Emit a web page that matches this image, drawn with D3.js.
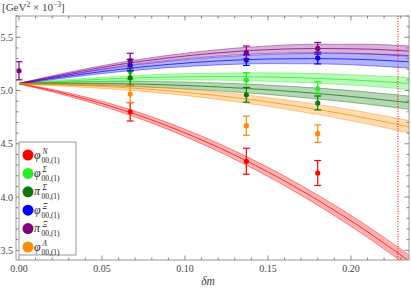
<!DOCTYPE html>
<html><head><meta charset="utf-8">
<script src="https://cdn.jsdelivr.net/npm/d3@7"></script>
<style>body{margin:0;background:#fff}svg{display:block}text{font-family:"Liberation Serif",serif}</style>
</head><body><svg id="c" width="411" height="289"></svg>
<script>
// ---- data ----
const seriesNames = ["phiN","phiSigma","piSigma","phiXi","piXi","phiLambda"];
const seriesColors = ["#ff0000","#22ee22","#0b7a0b","#0000ff","#800080","#ff8c00"];
const legendSym = ["φ","φ","π","φ","π","φ"];
const legendSup = ["N","Σ","Σ","Ξ","Ξ","Λ"];
const legendSub = "00,(1)";

// fit band samples (δm, centre value, half width)
const fitX = [0, 0.03, 0.06, 0.09, 0.12, 0.15, 0.18, 0.21, 0.235];
const fitRed    = [5.065, 4.962, 4.830, 4.665, 4.467, 4.236, 3.971, 3.674, 3.400];
const fitLGreen = [5.065, 5.091, 5.113, 5.127, 5.131, 5.127, 5.114, 5.092, 5.067];
const fitDGreen = [5.065, 5.066, 5.064, 5.053, 5.034, 5.007, 4.972, 4.929, 4.886];
const fitBlue   = [5.065, 5.136, 5.198, 5.245, 5.278, 5.296, 5.300, 5.290, 5.270];
const fitPurple = [5.065, 5.160, 5.243, 5.307, 5.354, 5.384, 5.395, 5.389, 5.370];
const fitOrange = [5.065, 5.052, 5.031, 4.998, 4.952, 4.893, 4.822, 4.739, 4.660];
const hwRed    = [0.004, 0.015, 0.025, 0.032, 0.038, 0.043, 0.048, 0.053, 0.057];
const hwLGreen = [0.004, 0.013, 0.020, 0.027, 0.033, 0.039, 0.045, 0.050, 0.055];
const hwDGreen = [0.004, 0.014, 0.022, 0.030, 0.037, 0.044, 0.051, 0.057, 0.062];
const hwBlue   = [0.004, 0.014, 0.022, 0.030, 0.037, 0.043, 0.049, 0.055, 0.060];
const hwPurple = [0.004, 0.012, 0.018, 0.024, 0.030, 0.035, 0.040, 0.045, 0.048];
const hwOrange = [0.004, 0.013, 0.021, 0.028, 0.035, 0.041, 0.047, 0.053, 0.058];

// lattice data points
const ptX = [0.067, 0.137, 0.18];
const ptRed    = [4.800, 4.336, 4.226];  const erRed    = [0.086, 0.122, 0.117];
const ptLGreen = [5.176, 5.098, 5.017];  const erLGreen = [0.070, 0.070, 0.065];
const ptDGreen = [5.120, 4.960, 4.883];  const erDGreen = [0.070, 0.069, 0.065];
const ptBlue   = [5.239, 5.286, 5.305];  const erBlue   = [0.055, 0.050, 0.055];
const ptOrange = [4.967, 4.670, 4.595];  const erOrange = [0.078, 0.090, 0.082];
const ptPurpleX = [0, 0.067, 0.137, 0.18];
const ptPurple = [5.186, 5.280, 5.358, 5.396]; const erPurple = [0.085, 0.070, 0.060, 0.055];

const xTicks = [0.00, 0.05, 0.10, 0.15, 0.20];
const yTicks = [3.5, 4.0, 4.5, 5.0, 5.5];
const cutX = 0.2283;

// ---- drawing ----
const svg = d3.select("#c");
const L = 16, R = 409, T = 16, B = 260;
const x = d3.scaleLinear().domain([-0.0018, 0.235]).range([L, R]);
const y = d3.scaleLinear().domain([3.409, 5.70]).range([B, T]);

svg.append("defs").append("clipPath").attr("id","clip")
  .append("rect").attr("x",L).attr("y",T).attr("width",R-L).attr("height",B-T);

const fits = [
  [fitRed,hwRed],[fitLGreen,hwLGreen],[fitDGreen,hwDGreen],
  [fitBlue,hwBlue],[fitPurple,hwPurple],[fitOrange,hwOrange]];
const pts = [
  [ptX,ptRed,erRed],[ptX,ptLGreen,erLGreen],[ptX,ptDGreen,erDGreen],
  [ptX,ptBlue,erBlue],[ptPurpleX,ptPurple,erPurple],[ptX,ptOrange,erOrange]];

const gPlot = svg.append("g").attr("clip-path","url(#clip)");
const area = d3.area().x(d=>x(d.x)).y0(d=>y(d.c-d.h)).y1(d=>y(d.c+d.h)).curve(d3.curveMonotoneX);
const line = d3.line().x(d=>x(d.x)).y(d=>y(d.v)).curve(d3.curveMonotoneX);

fits.forEach(([c,h],i)=>{
  const col = seriesColors[i];
  const data = fitX.map((xx,k)=>({x:xx,c:c[k],h:h[k]}));
  gPlot.append("path").attr("d",area(data)).attr("fill",col).attr("fill-opacity",0.3);
  [-1,0,1].forEach(s=>{
    gPlot.append("path").attr("d",line(data.map(d=>({x:d.x,v:d.c+s*d.h}))))
      .attr("fill","none").attr("stroke",col).attr("stroke-width",s===0?1:0.8)
      .attr("stroke-opacity",s===0?0.75:0.55);
  });
});

// red dotted vertical line
gPlot.append("line").attr("x1",x(cutX)).attr("x2",x(cutX)).attr("y1",T).attr("y2",B)
  .attr("stroke","#ff0000").attr("stroke-width",1).attr("stroke-dasharray","1,1.5");

// points with error bars
pts.forEach(([xs,vs,es],i)=>{
  const col = seriesColors[i];
  const g = gPlot.append("g");
  xs.forEach((xx,k)=>{
    const px = x(xx), y1 = y(vs[k]+es[k]), y2 = y(vs[k]-es[k]);
    g.append("line").attr("x1",px).attr("x2",px).attr("y1",y1).attr("y2",y2).attr("stroke",col).attr("stroke-width",1.2);
    [y1,y2].forEach(yy=>g.append("line").attr("x1",px-3.5).attr("x2",px+3.5).attr("y1",yy).attr("y2",yy).attr("stroke",col).attr("stroke-width",1.2));
    g.append("circle").attr("cx",px).attr("cy",y(vs[k])).attr("r",2.6).attr("fill",col);
  });
});

// frame
svg.append("rect").attr("x",L).attr("y",T).attr("width",R-L).attr("height",B-T)
  .attr("fill","none").attr("stroke","#999").attr("stroke-width",1);

// ticks
const tickCol = "#555";
const xMinor = d3.range(0, 0.2351, 0.01);
const yMinor = d3.range(3.5, 5.701, 0.1);
xMinor.forEach(v=>{
  const major = xTicks.some(t=>Math.abs(t-v)<1e-6);
  const len = major?4.5:2.5;
  svg.append("line").attr("x1",x(v)).attr("x2",x(v)).attr("y1",B).attr("y2",B-len).attr("stroke",tickCol).attr("stroke-width",0.7);
  svg.append("line").attr("x1",x(v)).attr("x2",x(v)).attr("y1",T).attr("y2",T+len).attr("stroke",tickCol).attr("stroke-width",0.7);
});
yMinor.forEach(v=>{
  const major = yTicks.some(t=>Math.abs(t-v)<1e-6);
  const len = major?4.5:2.5;
  svg.append("line").attr("x1",L).attr("x2",L+len).attr("y1",y(v)).attr("y2",y(v)).attr("stroke",tickCol).attr("stroke-width",0.7);
  svg.append("line").attr("x1",R).attr("x2",R-len).attr("y1",y(v)).attr("y2",y(v)).attr("stroke",tickCol).attr("stroke-width",0.7);
});
xTicks.forEach(v=>svg.append("text").attr("x",x(v)).attr("y",B+12).attr("text-anchor","middle")
  .attr("font-size",10).attr("fill","#444").text(v.toFixed(2)));
yTicks.forEach(v=>svg.append("text").attr("x",13).attr("y",y(v)+3.5).attr("text-anchor","end")
  .attr("font-size",10).attr("fill","#444").text(v.toFixed(1)));

// axis titles
svg.append("text").attr("x",208).attr("y",285).attr("text-anchor","middle")
  .attr("font-size",11.5).attr("font-style","italic").attr("fill","#444").text("δm");
const tt = svg.append("text").attr("x",2).attr("y",11).attr("font-size",11).attr("fill","#444");
tt.append("tspan").text("[GeV");
tt.append("tspan").attr("dy",-4).attr("font-size",7.5).text("2");
tt.append("tspan").attr("dy",4).text(" × 10");
tt.append("tspan").attr("dy",-4).attr("font-size",7.5).text("−3");
tt.append("tspan").attr("dy",4).text("]");

// legend
const lg = svg.append("g");
lg.append("rect").attr("x",19).attr("y",142).attr("width",57).attr("height",113)
  .attr("fill","#fff").attr("stroke","#999").attr("stroke-width",1);
seriesNames.forEach((n,i)=>{
  const cy = 155 + i*18.4;
  lg.append("circle").attr("cx",28).attr("cy",cy).attr("r",5.5).attr("fill",seriesColors[i]);
  lg.append("text").attr("x",34).attr("y",cy+3.5).attr("font-size",12).attr("font-style","italic").attr("fill","#222").text(legendSym[i]);
  lg.append("text").attr("x",42.5).attr("y",cy-1.5).attr("font-size",7.5).attr("font-style","italic").attr("fill","#222").text(legendSup[i]);
  lg.append("text").attr("x",41.5).attr("y",cy+7.5).attr("font-size",7.5).attr("fill","#222").text(legendSub);
});
</script></body></html>
